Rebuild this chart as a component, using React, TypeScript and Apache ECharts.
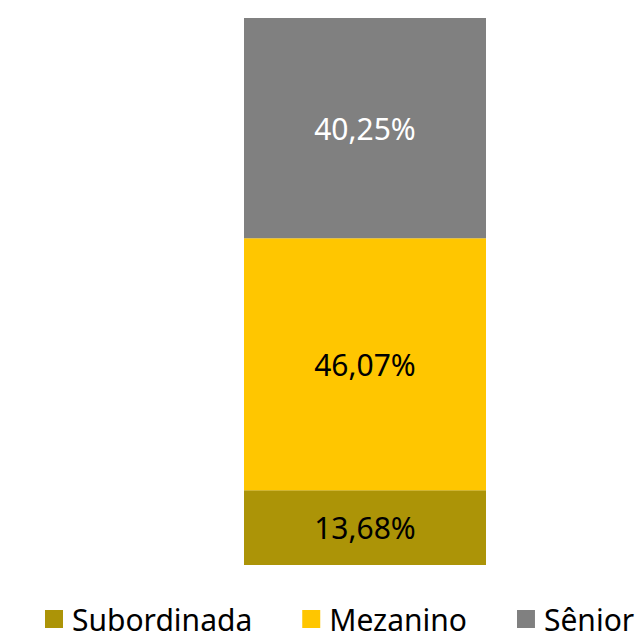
import React, { useEffect, useRef } from "react";
import * as echarts from "echarts";

const categories = ["Total"];
const seriesNames = ["Subordinada", "Mezanino", "Sênior"];
const subordinada = [13.68];
const mezanino = [46.07];
const senior = [40.25];
const colors = ["#AC9407", "#FFC600", "#808080"];
const labelColors = ["#000000", "#000000", "#FFFFFF"];

const FONT = "'Noto Sans', 'Open Sans', sans-serif";

export default function App() {
  const ref = useRef<HTMLDivElement>(null);
  useEffect(() => {
    if (!ref.current) return;
    const chart = echarts.init(ref.current, undefined, { renderer: "svg" });
    const values = [subordinada, mezanino, senior];
    chart.setOption({
      animation: false,
      textStyle: { fontFamily: FONT },
      grid: { left: 244, right: 155, top: 18, bottom: 69 },
      xAxis: {
        type: "category",
        data: categories,
        show: false,
      },
      yAxis: {
        type: "value",
        min: 0,
        max: 100,
        show: false,
      },
      legend: {
        data: seriesNames,
        left: 45,
        top: 604,
        padding: 0,
        itemWidth: 18,
        itemHeight: 18,
        itemGap: 50,
        icon: "rect",
        textStyle: {
          fontSize: 30,
          lineHeight: 26,
          color: "#000",
          fontFamily: FONT,
          padding: [0, 0, 0, 4],
        },
      },
      series: seriesNames.map((name, i) => ({
        name,
        type: "bar",
        stack: "total",
        barWidth: "100%",
        data: values[i],
        itemStyle: { color: colors[i] },
        label: {
          show: true,
          position: "inside",
          fontSize: 30,
          color: labelColors[i],
          fontFamily: FONT,
          formatter: (p: any) => p.value.toFixed(2).replace(".", ",") + "%",
        },
      })),
    });
    return () => chart.dispose();
  }, []);
  return (
    <div
      ref={ref}
      style={{ position: "fixed", left: 0, top: 0, width: 641, height: 634, background: "#fff" }}
    />
  );
}
